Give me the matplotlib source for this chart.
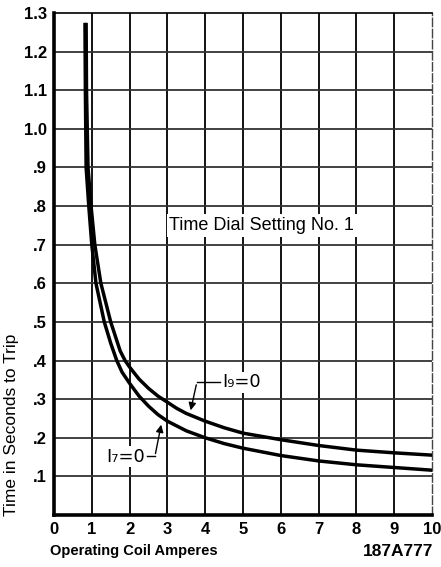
import numpy as np
import matplotlib.pyplot as plt

plt.rcParams['font.family'] = ['Liberation Sans', 'DejaVu Sans']

# Curve data (operating coil amperes vs. seconds to trip)
amps_i9 = [0.85, 0.86, 0.88, 0.90, 0.98, 1.08, 1.24, 1.50, 1.75, 1.88, 2.0, 2.25, 2.5, 2.75,
           3.0, 3.25, 3.5, 4.0, 4.5, 5.0, 6.0, 7.0, 8.0, 9.0, 10.0]
time_i9 = [1.27, 1.10, 1.00, 0.90, 0.80, 0.70, 0.60, 0.50, 0.425, 0.40, 0.383, 0.352, 0.328, 0.308,
           0.292, 0.276, 0.263, 0.243, 0.226, 0.212, 0.195, 0.180, 0.168, 0.161, 0.155]

amps_i7 = [0.82, 0.83, 0.84, 0.85, 0.92, 1.00, 1.11, 1.33, 1.50, 1.66, 1.80, 2.0, 2.25, 2.5, 2.75,
           3.0, 3.5, 4.0, 4.5, 5.0, 6.0, 7.0, 8.0, 9.0, 10.0]
time_i7 = [1.27, 1.10, 1.00, 0.90, 0.80, 0.70, 0.60, 0.50, 0.445, 0.40, 0.37, 0.341, 0.308, 0.282, 0.260,
           0.243, 0.218, 0.200, 0.185, 0.173, 0.154, 0.140, 0.130, 0.123, 0.116]

x_ticks = list(range(0, 11))
y_ticks = [0.1, 0.2, 0.3, 0.4, 0.5, 0.6, 0.7, 0.8, 0.9, 1.0, 1.1, 1.2, 1.3]
y_labels = ['.1', '.2', '.3', '.4', '.5', '.6', '.7', '.8', '.9', '1.0', '1.1', '1.2', '1.3']

fig = plt.figure(figsize=(4.41, 5.67), dpi=100)
ax = fig.add_axes([54 / 441, 52 / 567, 378 / 441, 502 / 567])
ax.set_xlim(0, 10)
ax.set_ylim(0, 1.3)

# grid
for xv in x_ticks[1:-1]:
    ax.axvline(xv, color='black', lw=1.3, zorder=1)
for yv in y_ticks[:-1]:
    ax.axhline(yv, color='#333333', lw=1.3, zorder=1)

# curves
ax.plot(amps_i9, time_i9, color='black', lw=2.5, zorder=3, solid_joinstyle='round')
ax.plot(amps_i7, time_i7, color='black', lw=2.5, zorder=3, solid_joinstyle='round')

# spines
ax.spines['left'].set_linewidth(2.6)
ax.spines['bottom'].set_linewidth(2.6)
ax.spines['top'].set_linewidth(1.2)
ax.spines['right'].set_linewidth(1.0)
ax.spines['right'].set_linestyle((0, (6, 2)))
ax.spines['right'].set_color('#444444')

ax.set_xticks(x_ticks)
ax.set_xticklabels([str(v) for v in x_ticks])
ax.set_yticks(y_ticks)
ax.set_yticklabels(y_labels)
ax.tick_params(length=0, labelsize=12, pad=5)
for lbl in ax.get_xticklabels() + ax.get_yticklabels():
    lbl.set_fontweight('bold')

# labels
fig.text(12 / 441, 1 - 425 / 567, 'Time in Seconds to Trip', rotation=90,
         ha='center', va='center', fontsize=12.5)
fig.text(50 / 441, 1 - 551 / 567, 'Operating Coil Amperes', ha='left',
         va='center', fontsize=10.5, fontweight='bold')
fig.text(433 / 441, 1 - 551 / 567, '187A777', ha='right', va='center',
         fontsize=12.5, fontweight='bold')

ax.text(5.5, 0.75, 'Time Dial Setting No. 1', ha='center', va='center',
        fontsize=13, zorder=4,
        bbox=dict(facecolor='white', edgecolor='none', pad=2))

# annotations with leader lines
ax.text(4.45, 0.344, 'I\u2089=0', ha='left', va='center', fontsize=13,
        family=['DejaVu Sans'], zorder=4,
        bbox=dict(facecolor='white', edgecolor='none', pad=1))
ax.plot([4.38, 3.78], [0.344, 0.344], color='black', lw=1.0, zorder=4)
ax.annotate('', xy=(3.6, 0.264), xytext=(3.78, 0.344),
            arrowprops=dict(arrowstyle='-|>', color='black', lw=1.0,
                            mutation_scale=11), zorder=4)

ax.text(2.4, 0.151, 'I\u2087=0', ha='right', va='center', fontsize=13,
        family=['DejaVu Sans'], zorder=4,
        bbox=dict(facecolor='white', edgecolor='none', pad=1))
ax.plot([2.45, 2.67], [0.152, 0.152], color='black', lw=1.0, zorder=4)
ax.annotate('', xy=(2.85, 0.241), xytext=(2.67, 0.152),
            arrowprops=dict(arrowstyle='-|>', color='black', lw=1.0,
                            mutation_scale=11), zorder=4)

fig.savefig('out.png', dpi=100, facecolor='white')
